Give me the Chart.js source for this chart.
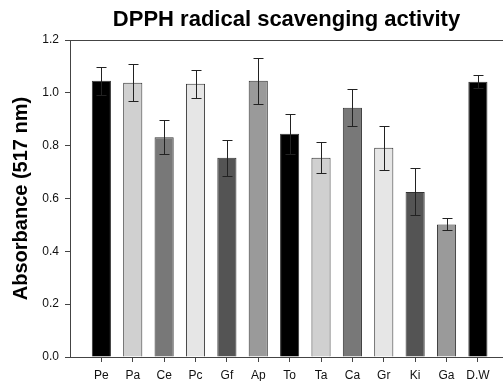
<!DOCTYPE html>
<html><head><meta charset="utf-8">
<script src="https://cdn.jsdelivr.net/npm/chart.js@4/dist/chart.umd.min.js"></script>
<style>html,body{margin:0;padding:0;background:#fff}#wrap{width:503px;height:381px}</style>
</head><body><div id="wrap"><canvas id="c"></canvas></div>
<script>
const categories = ["Pe","Pa","Ce","Pc","Gf","Ap","To","Ta","Ca","Gr","Ki","Ga","D.W"];
const values = [1.046, 1.038, 0.832, 1.034, 0.754, 1.046, 0.845, 0.754, 0.944, 0.792, 0.625, 0.502, 1.042];
const errors = [0.053, 0.070, 0.065, 0.052, 0.067, 0.087, 0.075, 0.059, 0.069, 0.083, 0.089, 0.023, 0.024];
const barColors = ["#000000","#d0d0d0","#787878","#e6e6e6","#545454","#9a9a9a","#000000","#d0d0d0","#787878","#e6e6e6","#545454","#9a9a9a","#000000"];
const yTicks = [0, 0.2, 0.4, 0.6, 0.8, 1.0, 1.2];

const errorBars = {
  id: 'errorBars',
  afterDatasetsDraw(chart) {
    const ctx = chart.ctx, xs = chart.scales.x, ys = chart.scales.y;
    ctx.save();
    ctx.strokeStyle = '#222';
    ctx.lineWidth = 1;
    values.forEach((v, i) => {
      const x = Math.round(xs.getPixelForValue(i)) + 0.5;
      const yt = Math.round(ys.getPixelForValue(v + errors[i])) + 0.5;
      const yb = Math.round(ys.getPixelForValue(v - errors[i])) + 0.5;
      ctx.beginPath();
      ctx.moveTo(x, yt); ctx.lineTo(x, yb);
      ctx.moveTo(x - 5, yt); ctx.lineTo(x + 5, yt);
      ctx.moveTo(x - 5, yb); ctx.lineTo(x + 5, yb);
      ctx.stroke();
    });
    ctx.restore();
  }
};

new Chart(document.getElementById('c'), {
  type: 'bar',
  data: {
    datasets: [{
      data: values.map((v, i) => ({x: i, y: v})),
      backgroundColor: barColors,
      borderColor: '#333',
      borderWidth: 1,
      categoryPercentage: 1,
      barPercentage: 0.61
    }]
  },
  options: {
    responsive: true,
    maintainAspectRatio: false,
    animation: false,
    layout: {padding: 0},
    plugins: {
      legend: {display: false},
      tooltip: {enabled: false},
      title: {
        display: true,
        text: 'DPPH radical scavenging activity',
        fullSize: false,
        color: '#000',
        font: {family: 'Liberation Sans, Arial, sans-serif', size: 22, weight: 'bold'},
        padding: {top: 6.4, bottom: 7.2}
      }
    },
    scales: {
      x: {
        type: 'linear',
        offset: false,
        min: -1,
        max: 12.8,
        afterBuildTicks: s => { s.ticks = categories.map((c, i) => ({value: i})); },
        afterFit: s => { s.height = 24; },
        border: {display: true, color: '#444', width: 1},
        grid: {offset: false, drawOnChartArea: false, drawTicks: true, tickLength: 5, tickColor: '#444'},
        ticks: {
          autoSkip: false, maxRotation: 0, padding: 6,
          color: '#111',
          font: {family: 'Liberation Sans, Arial, sans-serif', size: 12},
          callback: v => categories[v]
        }
      },
      y: {
        min: 0,
        max: 1.2,
        afterBuildTicks: s => { s.ticks = yTicks.map(v => ({value: v})); },
        afterFit: s => { s.width = 70; },
        border: {display: true, color: '#444', width: 1},
        grid: {
          drawOnChartArea: true, drawTicks: true, tickLength: 5, tickColor: '#444',
          color: c => (c.tick && Math.abs(c.tick.value - 1.2) < 1e-6) ? '#444' : 'rgba(0,0,0,0)'
        },
        ticks: {
          padding: 6, color: '#111',
          font: {family: 'Liberation Sans, Arial, sans-serif', size: 12},
          callback: v => v.toFixed(1)
        },
        title: {
          display: true,
          text: 'Absorbance (517 nm)',
          color: '#000',
          font: {family: 'Liberation Sans, Arial, sans-serif', size: 20, weight: 'bold'},
          padding: {top: 9, bottom: 0}
        }
      }
    }
  },
  plugins: [errorBars]
});
</script></body></html>
